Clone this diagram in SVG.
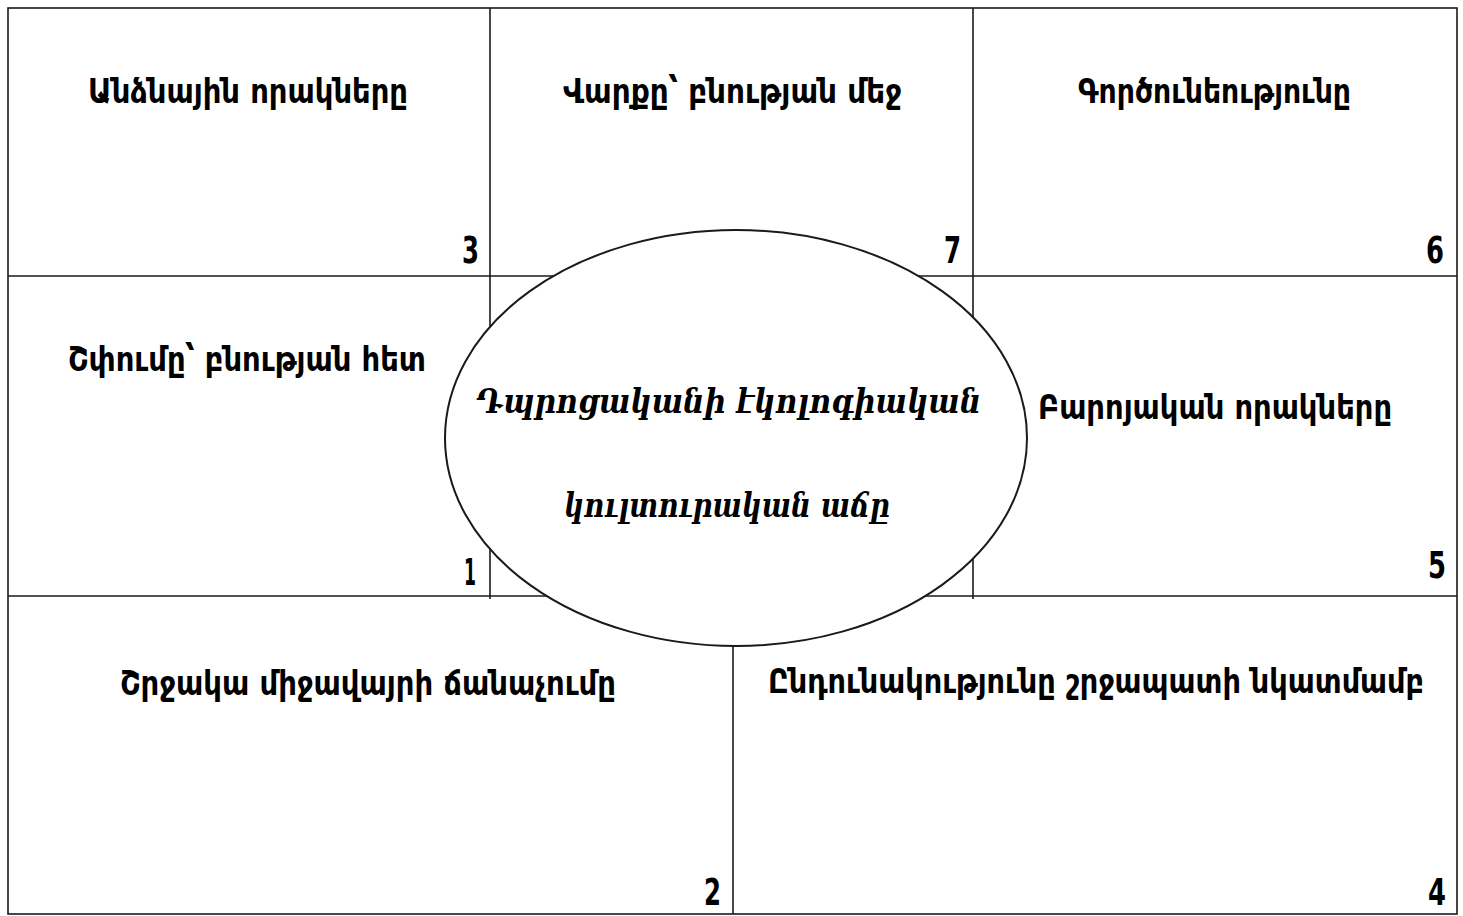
<svg xmlns="http://www.w3.org/2000/svg" width="1463" height="916" viewBox="0 0 1463 916">
<style>
.ln{stroke:#1a1a1a;stroke-width:1.6;fill:none}
.lbl{font-family:"DejaVu Sans Condensed","DejaVu Sans",sans-serif;font-weight:bold;font-size:33px;fill:#000}
.num{font-family:"DejaVu Sans Condensed","DejaVu Sans",sans-serif;font-weight:bold;font-size:37px;fill:#000;text-anchor:end}
.scr{font-family:"DejaVu Serif","DejaVu Sans",serif;font-style:italic;font-weight:bold;font-size:33px;fill:#000}
</style>
<rect width="1463" height="916" fill="#fff"/>
<g id="grid">
<rect class="ln" x="8" y="8" width="1449" height="906" stroke-width="2"/>
<line class="ln" x1="8" y1="276" x2="1457" y2="276"/>
<line class="ln" x1="8" y1="596" x2="1457" y2="596"/>
<line class="ln" x1="490" y1="8" x2="490" y2="599"/>
<line class="ln" x1="973" y1="8" x2="973" y2="599"/>
<line class="ln" x1="733" y1="596" x2="733" y2="914"/>
</g>
<g id="cell3">
<text class="lbl" x="88" y="103" textLength="320" lengthAdjust="spacingAndGlyphs">Անձնային որակները</text>
<text class="num" x="479" y="263" textLength="17" lengthAdjust="spacingAndGlyphs">3</text>
</g>
<g id="cell7">
<text class="lbl" x="563" y="103" textLength="339" lengthAdjust="spacingAndGlyphs">Վարքը՝ բնության մեջ</text>
<text class="num" x="961" y="263" textLength="17" lengthAdjust="spacingAndGlyphs">7</text>
</g>
<g id="cell6">
<text class="lbl" x="1078" y="103" textLength="273" lengthAdjust="spacingAndGlyphs">Գործունեությունը</text>
<text class="num" x="1444" y="263" textLength="18" lengthAdjust="spacingAndGlyphs">6</text>
</g>
<g id="cell1">
<text class="lbl" x="68" y="371" textLength="358" lengthAdjust="spacingAndGlyphs">Շփումը՝ բնության հետ</text>
<text class="num" x="476" y="585" textLength="12" lengthAdjust="spacingAndGlyphs">1</text>
</g>
<g id="cell5">
<text class="lbl" x="1038" y="419" textLength="354" lengthAdjust="spacingAndGlyphs">Բարոյական որակները</text>
<text class="num" x="1446" y="578" textLength="18" lengthAdjust="spacingAndGlyphs" font-weight="normal">5</text>
</g>
<g id="cell2">
<text class="lbl" x="120" y="695" textLength="496" lengthAdjust="spacingAndGlyphs">Շրջակա միջավայրի ճանաչումը</text>
<text class="num" x="721" y="905" textLength="17" lengthAdjust="spacingAndGlyphs">2</text>
</g>
<g id="cell4">
<text class="lbl" x="768" y="693" textLength="656" lengthAdjust="spacingAndGlyphs">Ընդունակությունը շրջապատի նկատմամբ</text>
<text class="num" x="1446" y="905" textLength="18" lengthAdjust="spacingAndGlyphs">4</text>
</g>
<g id="center">
<ellipse cx="736" cy="438" rx="291" ry="208" fill="#fff" stroke="#1a1a1a" stroke-width="2"/>
<text class="scr" x="476" y="413" textLength="505" lengthAdjust="spacingAndGlyphs">Դպրոցականի էկոլոգիական</text>
<text class="scr" x="564" y="517" textLength="326" lengthAdjust="spacingAndGlyphs">կուլտուրական աճը</text>
</g>
</svg>
